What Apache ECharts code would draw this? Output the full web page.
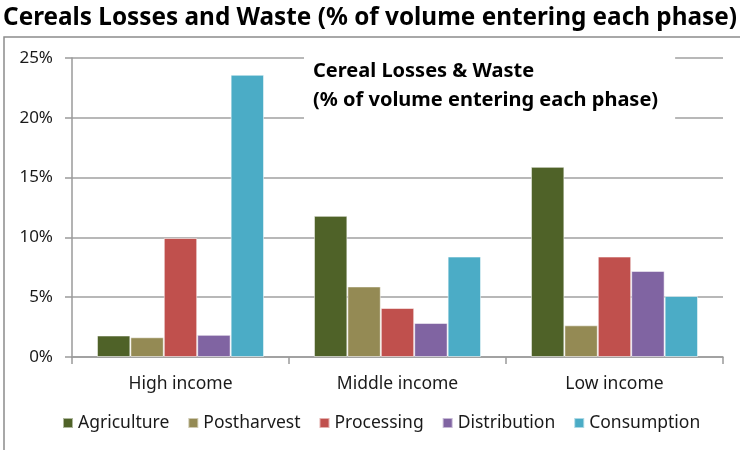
<!DOCTYPE html>
<html>
<head>
<meta charset="utf-8">
<script src="https://cdn.jsdelivr.net/npm/echarts@6/dist/echarts.min.js"></script>
<style>html,body{margin:0;padding:0;background:#fff;}#c{width:740px;height:450px;}</style>
</head>
<body>
<div id="c"></div>
<script>
const categories = ['High income', 'Middle income', 'Low income'];
const seriesNames = ['Agriculture', 'Postharvest', 'Processing', 'Distribution', 'Consumption'];
const agriculture = [1.8, 11.8, 15.9];
const postharvest = [1.65, 5.9, 2.65];
const processing = [9.95, 4.1, 8.4];
const distribution = [1.85, 2.85, 7.2];
const consumption = [23.6, 8.4, 5.1];
const yTicks = [0, 5, 10, 15, 20, 25];

const colors = ['#4F6228', '#948A54', '#C0504D', '#8064A2', '#4BACC6'];
const values = [agriculture, postharvest, processing, distribution, consumption];
const FONT = 'Noto Sans';

const chart = echarts.init(document.getElementById('c'));
chart.setOption({
  animation: false,
  backgroundColor: '#fff',
  color: colors,
  textStyle: { fontFamily: FONT },
  title: [
    {
      text: 'Cereals Losses and Waste (% of volume entering each phase)',
      left: 'center', top: 1,
      textStyle: { fontFamily: FONT, fontSize: 24.3, fontWeight: 'bold', color: '#000' }
    },
    {
      text: 'Cereal Losses & Waste\n(% of volume entering each phase)',
      left: 304, top: 51,
      padding: [6, 17, 6, 9],
      backgroundColor: '#fff',
      textStyle: { fontFamily: FONT, fontSize: 20, fontWeight: 'bold', color: '#000', lineHeight: 29 }
    }
  ],
  graphic: [{
    type: 'rect', z: -1, silent: true,
    shape: { x: 4, y: 37, width: 740, height: 420 },
    style: { fill: 'none', stroke: '#8c8c8c', lineWidth: 1.5 }
  }],
  grid: { left: 72, right: 17, top: 58, bottom: 93 },
  legend: {
    data: seriesNames,
    bottom: 13, left: 57,
    icon: 'rect', itemWidth: 10, itemHeight: 10, itemGap: 18,
    textStyle: { fontFamily: FONT, fontSize: 17.5, color: '#1a1a1a' }
  },
  xAxis: {
    type: 'category',
    data: categories,
    axisLine: { lineStyle: { color: '#9a9a9a', width: 1.5 } },
    axisTick: { show: true, length: 7, lineStyle: { color: '#9a9a9a', width: 1.5 } },
    axisLabel: { fontFamily: FONT, fontSize: 17.5, color: '#1a1a1a', margin: 18 }
  },
  yAxis: {
    type: 'value', min: yTicks[0], max: yTicks[yTicks.length - 1], interval: 5,
    axisLine: { show: true, lineStyle: { color: '#9a9a9a', width: 1.5 } },
    axisTick: { show: true, length: 7, lineStyle: { color: '#9a9a9a', width: 1.5 } },
    splitLine: { lineStyle: { color: '#a0a0a0', width: 1.5 } },
    axisLabel: { fontFamily: FONT, fontSize: 17, color: '#1a1a1a', margin: 19, formatter: '{value}%' }
  },
  series: seriesNames.map((n, i) => ({
    name: n, type: 'bar', data: values[i],
    barGap: '0%', barCategoryGap: '23%',
    itemStyle: { borderColor: 'rgba(255,255,255,0.55)', borderWidth: 1 }
  }))
});
</script>
</body>
</html>
